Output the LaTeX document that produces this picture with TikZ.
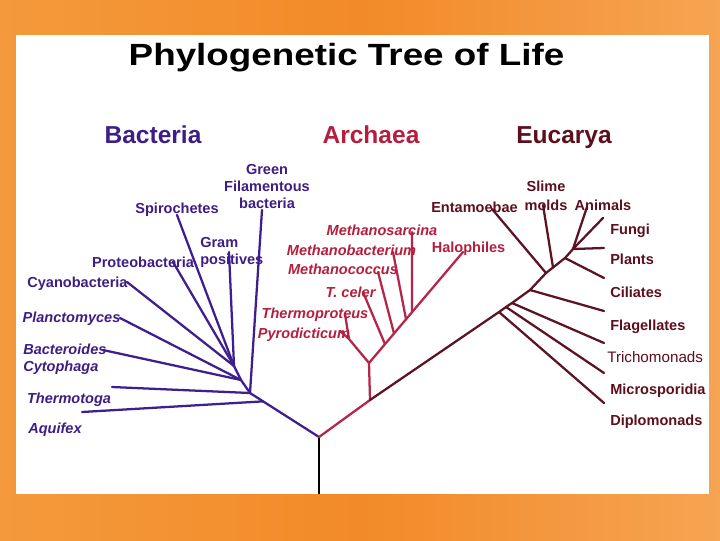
\documentclass[tikz,border=0pt]{standalone}
\usepackage{fontspec}
\setmainfont{Liberation Sans}
\usetikzlibrary{calc}
\definecolor{bgA}{HTML}{F49A3C}
\definecolor{bgB}{HTML}{F28A28}
\definecolor{bgC}{HTML}{F6A452}
\definecolor{bacT}{HTML}{3E1E84}
\definecolor{bacL}{HTML}{3D1F8F}
\definecolor{arcT}{HTML}{B51F3E}
\definecolor{arcL}{HTML}{B4264A}
\definecolor{eucT}{HTML}{5D0F1E}
\definecolor{eucL}{HTML}{5C1424}
\tikzset{
  lbl/.style={font=\fontsize{10.9}{12}\selectfont\bfseries, inner sep=0pt, anchor=base},
  lblw/.style={lbl, anchor=base west},
  ital/.style={font=\fontsize{10.9}{12}\selectfont\bfseries\itshape},
  hdr/.style={font=\fontsize{18.4}{20}\selectfont\bfseries, inner sep=0pt, anchor=base},
  bac/.style={text=bacT},
  arc/.style={text=arcT},
  euc/.style={text=eucT},
  bline/.style={draw=bacL, line width=1.7pt, line cap=round, line join=round},
  aline/.style={draw=arcL, line width=1.7pt, line cap=round, line join=round},
  eline/.style={draw=eucL, line width=1.7pt, line cap=round, line join=round}
}
\begin{document}
\begin{tikzpicture}[x=0.75pt, y=-0.75pt]
\useasboundingbox (0,0) rectangle (720,540);
% background
\shade[left color=bgA, right color=bgC, middle color=bgB] (0,0) rectangle (720,540);
\fill[white] (16,35) rectangle (709,494);

% title and headers
\node[inner sep=0pt, anchor=base, xscale=1.2, font=\fontsize{23}{26}\selectfont\bfseries] (title) at (346.5,65) {Phylogenetic Tree of Life};
\node[hdr, bac] (hbac) at (153,143) {Bacteria};
\node[hdr, arc] (harc) at (371,143) {Archaea};
\node[hdr, euc] (heuc) at (564,143) {Eucarya};

% ---------- coordinates ----------
\coordinate (base) at (319,494);
\coordinate (R) at (319,437);
% bacteria
\coordinate (B0) at (250,393);
\coordinate (B1) at (241,380);
\coordinate (B2) at (234,366);
\coordinate (Baq) at ($(R)!0.81!(B0)$);
\coordinate (eAquifex) at (82,412);
\coordinate (eThermotoga) at (112,387);
\coordinate (eBacteroides) at (103,350);
\coordinate (ePlancto) at (120,318);
\coordinate (eCyano) at (127,282);
\coordinate (eProteo) at (173,262);
\coordinate (eSpiro) at (177,215);
\coordinate (eGram) at (229,252);
\coordinate (eGreen) at (262,210);
% archaea
\coordinate (A1) at (370,400);
\coordinate (A2) at (369,363);
\coordinate (A3) at (349,339);
\coordinate (eThermop) at (345,314);
\coordinate (ePyro) at (340,331);
\coordinate (eHalo) at (463,252);
\coordinate (bTceler) at ($(A2)!0.17!(eHalo)$);
\coordinate (bMcoccus) at ($(A2)!0.266!(eHalo)$);
\coordinate (bMbact) at ($(A2)!0.394!(eHalo)$);
\coordinate (bMsarc) at ($(A2)!0.457!(eHalo)$);
\coordinate (eTceler) at (363,292);
\coordinate (eMcoccus) at (378,272);
\coordinate (eMbact) at (393,252);
\coordinate (eMsarc) at (412,232);
% eucarya
\coordinate (E1) at (499,312);
\coordinate (E1b) at (506,307);
\coordinate (E1c) at (512,303);
\coordinate (E2) at (530,290);
\coordinate (E3) at (546,273);
\coordinate (E3b) at (553,267.5);
\coordinate (E4) at (565,258);
\coordinate (E5) at (573,249);
\coordinate (eDiplo) at (604,403);
\coordinate (eMicro) at (604,373);
\coordinate (eTricho) at (604,343);
\coordinate (eFlag) at (604,311);
\coordinate (eCil) at (604,278);
\coordinate (ePlants) at (604,248);
\coordinate (eFungi) at (603,218);
\coordinate (eAnimals) at (587,207);
\coordinate (eSlime) at (543,205);
\coordinate (eEnta) at (492,209);

% ---------- connectors ----------
\draw[black, line width=1pt] (base) -- (R);
% bacteria
\path[bline] (R) -- (B0) -- (B1) -- (B2);
\path[bline] (Baq) -- (eAquifex);
\path[bline] (B0) -- (eThermotoga);
\path[bline] (B1) -- (eBacteroides);
\path[bline] (B1) -- (ePlancto);
\path[bline] (B2) -- (eCyano);
\path[bline] (B2) -- (eProteo);
\path[bline] (B2) -- (eSpiro);
\path[bline] (B2) -- (eGram);
\path[bline] (B0) -- (eGreen);
% archaea
\path[aline] (R) -- (A1) -- (A2) -- (eHalo);
\path[aline] (A2) -- (A3) -- (eThermop);
\path[aline] (A3) -- (ePyro);
\path[aline] (bTceler) -- (eTceler);
\path[aline] (bMcoccus) -- (eMcoccus);
\path[aline] (bMbact) -- (eMbact);
\path[aline] (bMsarc) -- (eMsarc);
% eucarya
\path[eline] (A1) -- (E1) -- (E1b) -- (E1c) -- (E2) -- (E3) -- (E3b) -- (E4) -- (E5);
\path[eline] (E1) -- (eDiplo);
\path[eline] (E1b) -- (eMicro);
\path[eline] (E1c) -- (eTricho);
\path[eline] (E2) -- (eFlag);
\path[eline] (E4) -- (eCil);
\path[eline] (E5) -- (ePlants);
\path[eline] (E5) -- (eFungi);
\path[eline] (E5) -- (eAnimals);
\path[eline] (E3b) -- (eSlime);
\path[eline] (E3) -- (eEnta);

% ---------- labels: bacteria ----------
\node[lbl, bac] (green1) at (267,174) {Green};
\node[lbl, bac] (green2) at (267,191) {Filamentous};
\node[lbl, bac] (green3) at (267,208) {bacteria};
\node[lbl, bac] (spiro) at (177,213) {Spirochetes};
\node[lblw, bac] (gram1) at (200,247) {Gram};
\node[lblw, bac] (gram2) at (200,264) {positives};
\node[lbl, bac] (proteo) at (143,267) {Proteobacteria};
\node[lbl, bac] (cyano) at (77.5,287) {Cyanobacteria};
\node[lbl, bac, ital] (plancto) at (71.5,322) {Planctomyces};
\node[lblw, bac, ital] (bactero) at (23,354) {Bacteroides};
\node[lblw, bac, ital] (cyto) at (23,371) {Cytophaga};
\node[lbl, bac, ital] (thermotoga) at (69,403) {Thermotoga};
\node[lbl, bac, ital] (aquifex) at (55,433) {Aquifex};

% ---------- labels: archaea ----------
\node[lbl, arc, ital] (msarc) at (382,235) {Methanosarcina};
\node[lbl, arc, ital] (mbact) at (351.5,255) {Methanobacterium};
\node[lbl, arc, ital] (mcoccus) at (343,274) {Methanococcus};
\node[lbl, arc, ital] (tceler) at (350.5,297) {T. celer};
\node[lbl, arc, ital] (thermop) at (315,318) {Thermoproteus};
\node[lbl, arc, ital] (pyro) at (304,338) {Pyrodicticum};
\node[lbl, arc] (halo) at (468.5,252) {Halophiles};

% ---------- labels: eucarya ----------
\node[lbl, euc] (enta) at (474.5,212) {Entamoebae};
\node[lbl, euc] (slime1) at (546,191) {Slime};
\node[lbl, euc] (slime2) at (546,210) {molds};
\node[lbl, euc] (animals) at (603,210) {Animals};
\node[lblw, euc] (fungi) at (610,234) {Fungi};
\node[lblw, euc] (plants) at (610,264) {Plants};
\node[lblw, euc] (cil) at (610,297) {Ciliates};
\node[lblw, euc] (flag) at (610,330) {Flagellates};
\node[lblw, euc, font=\fontsize{11.4}{12}\selectfont] (tricho) at (607,362) {Trichomonads};
\node[lblw, euc] (micro) at (610,394) {Microsporidia};
\node[lblw, euc] (diplo) at (610,425) {Diplomonads};
\end{tikzpicture}
\end{document}
